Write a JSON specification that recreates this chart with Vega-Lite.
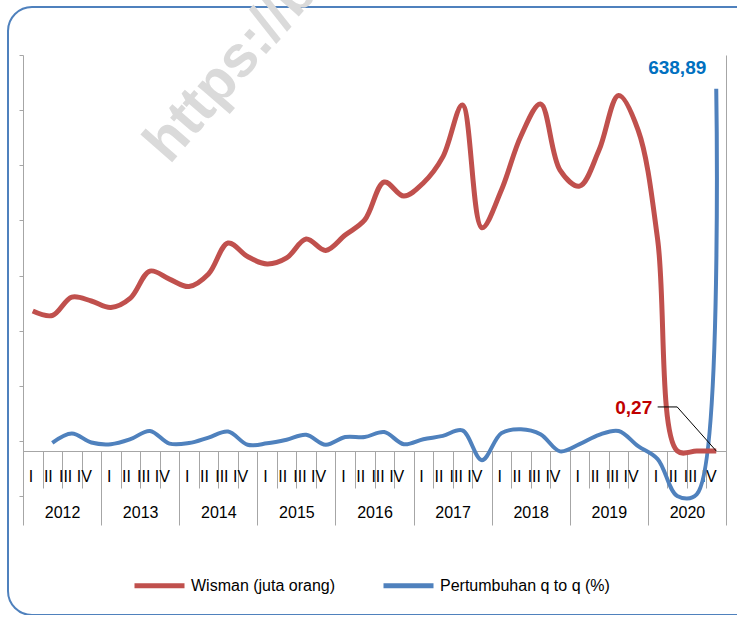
{
  "$schema": "https://vega.github.io/schema/vega-lite/v6.json",
  "width": 760,
  "height": 608,
  "autosize": {"type": "none"},
  "padding": {"left": 8, "top": 7, "right": -31, "bottom": 0},
  "config": {
    "view": {"stroke": "#4f81bd", "strokeWidth": 2, "cornerRadius": 24},
    "font": "Liberation Sans",
    "axis": {"grid": false, "title": null},
    "locale": {"number": {"decimal": ",", "thousands": ".", "grouping": [3], "currency": ["Rp", ""]}}
  },
  "datasets": {
    "kuartal": [
      {"q": "2012 I", "wisman": 715, "pertumbuhan": null},
      {"q": "2012 II", "wisman": 692, "pertumbuhan": -3.6},
      {"q": "2012 III", "wisman": 786, "pertumbuhan": 13.3},
      {"q": "2012 IV", "wisman": 766, "pertumbuhan": -3},
      {"q": "2013 I", "wisman": 733, "pertumbuhan": -6},
      {"q": "2013 II", "wisman": 781, "pertumbuhan": 3},
      {"q": "2013 III", "wisman": 919, "pertumbuhan": 18},
      {"q": "2013 IV", "wisman": 878, "pertumbuhan": -5},
      {"q": "2014 I", "wisman": 840, "pertumbuhan": -4},
      {"q": "2014 II", "wisman": 904, "pertumbuhan": 6},
      {"q": "2014 III", "wisman": 1062, "pertumbuhan": 17},
      {"q": "2014 IV", "wisman": 993, "pertumbuhan": -7},
      {"q": "2015 I", "wisman": 955, "pertumbuhan": -4.5},
      {"q": "2015 II", "wisman": 986, "pertumbuhan": 2},
      {"q": "2015 III", "wisman": 1083, "pertumbuhan": 11},
      {"q": "2015 IV", "wisman": 1024, "pertumbuhan": -7},
      {"q": "2016 I", "wisman": 1103, "pertumbuhan": 7},
      {"q": "2016 II", "wisman": 1180, "pertumbuhan": 7},
      {"q": "2016 III", "wisman": 1374, "pertumbuhan": 16},
      {"q": "2016 IV", "wisman": 1302, "pertumbuhan": -6},
      {"q": "2017 I", "wisman": 1369, "pertumbuhan": 3},
      {"q": "2017 II", "wisman": 1502, "pertumbuhan": 9},
      {"q": "2017 III", "wisman": 1767, "pertumbuhan": 19},
      {"q": "2017 IV", "wisman": 1140, "pertumbuhan": -35},
      {"q": "2018 I", "wisman": 1333, "pertumbuhan": 14},
      {"q": "2018 II", "wisman": 1609, "pertumbuhan": 21},
      {"q": "2018 III", "wisman": 1772, "pertumbuhan": 12},
      {"q": "2018 IV", "wisman": 1435, "pertumbuhan": -19},
      {"q": "2019 I", "wisman": 1353, "pertumbuhan": -6},
      {"q": "2019 II", "wisman": 1537, "pertumbuhan": 11},
      {"q": "2019 III", "wisman": 1816, "pertumbuhan": 18},
      {"q": "2019 IV", "wisman": 1639, "pertumbuhan": -9.6},
      {"q": "2020 I", "wisman": 1080, "pertumbuhan": -33},
      {"q": "2020 II", "wisman": 0.4, "pertumbuhan": -99.9},
      {"q": "2020 III", "wisman": 0.04, "pertumbuhan": -97},
      {"q": "2020 IV", "wisman": 0.27, "pertumbuhan": 638.89}
    ],
    "tahun": [
      {"tahun": "2012"}, {"tahun": "2013"}, {"tahun": "2014"}, {"tahun": "2015"}, {"tahun": "2016"},
      {"tahun": "2017"}, {"tahun": "2018"}, {"tahun": "2019"}, {"tahun": "2020"}
    ],
    "penunjuk": [
      {"q": "2020 I", "v": 225},
      {"q": "2020 II", "v": 225},
      {"q": "2020 IV", "v": 0.27}
    ],
    "tanda": [
      {"teks": "https://bali.bps.go.id", "q": "2013 IV", "v": 500}
    ]
  },
  "layer": [
    {
      "layer": [
        {
          "data": {"name": "tanda"},
          "mark": {"type": "text", "angle": -49, "fontSize": 58, "fontWeight": "bold", "color": "#dadada", "align": "left", "baseline": "alphabetic"},
          "encoding": {
            "x": {"field": "q", "type": "ordinal"},
            "y": {"field": "v", "type": "quantitative"},
            "text": {"field": "teks"}
          }
        },
        {
          "data": {"name": "kuartal"},
          "mark": {"type": "line", "interpolate": "catmull-rom", "strokeWidth": 4},
          "encoding": {
            "x": {
              "field": "q", "type": "ordinal", "sort": null,
              "scale": {"type": "band", "domain": ["2012 I","2012 II","2012 III","2012 IV","2013 I","2013 II","2013 III","2013 IV","2014 I","2014 II","2014 III","2014 IV","2015 I","2015 II","2015 III","2015 IV","2016 I","2016 II","2016 III","2016 IV","2017 I","2017 II","2017 III","2017 IV","2018 I","2018 II","2018 III","2018 IV","2019 I","2019 II","2019 III","2019 IV","2020 I","2020 II","2020 III","2020 IV"], "range": [15, 718], "paddingInner": 0, "paddingOuter": 0},
              "axis": {"orient": "bottom", "offset": -164, "tickBand": "extent", "tickSize": 37, "labelExpr": "split(datum.label, ' ')[1]", "labelAngle": 0, "labelPadding": -12, "labelBaseline": "middle", "labelFontSize": 16, "labelColor": "#000000", "labelOverlap": false, "labelFlush": false, "domainColor": "#a6a6a6", "tickColor": "#a6a6a6", "title": null}
            },
            "y": {
              "field": "pertumbuhan", "type": "quantitative",
              "scale": {"domain": [-100, 700], "range": [489, 48], "nice": false, "zero": false},
              "axis": {"orient": "left", "offset": -15, "values": [-100, 0, 100, 200, 300, 400, 500, 600, 700], "labels": false, "tickSize": 4, "domainColor": "#a6a6a6", "tickColor": "#a6a6a6", "title": null}
            },
            "color": {
              "datum": "Pertumbuhan q to q (%)",
              "scale": {"domain": ["Wisman (juta orang)", "Pertumbuhan q to q (%)"], "range": ["#c0504d", "#4f81bd"]},
              "legend": {"orient": "none", "legendX": 124, "legendY": 551, "direction": "horizontal", "title": null, "symbolType": "stroke", "symbolSize": 2500, "symbolStrokeWidth": 5, "labelFontSize": 16, "labelColor": "#000000", "labelLimit": 300, "columnPadding": 37, "labelOffset": 4, "padding": 0}
            }
          }
        },
        {
          "data": {"name": "kuartal"},
          "transform": [{"filter": "datum.q == '2020 IV'"}],
          "mark": {"type": "text", "fontSize": 19, "fontWeight": "bold", "color": "#0070c0", "align": "center", "baseline": "alphabetic", "dx": -39, "dy": -15},
          "encoding": {
            "x": {"field": "q", "type": "ordinal"},
            "y": {"field": "pertumbuhan", "type": "quantitative"},
            "text": {"field": "pertumbuhan", "type": "quantitative", "format": ".2f"}
          }
        }
      ]
    },
    {
      "layer": [
        {
          "data": {"name": "kuartal"},
          "mark": {"type": "line", "interpolate": "catmull-rom", "strokeWidth": 5},
          "encoding": {
            "x": {
              "field": "q", "type": "ordinal", "sort": null,
              "scale": {"type": "band", "domain": ["2012 I","2012 II","2012 III","2012 IV","2013 I","2013 II","2013 III","2013 IV","2014 I","2014 II","2014 III","2014 IV","2015 I","2015 II","2015 III","2015 IV","2016 I","2016 II","2016 III","2016 IV","2017 I","2017 II","2017 III","2017 IV","2018 I","2018 II","2018 III","2018 IV","2019 I","2019 II","2019 III","2019 IV","2020 I","2020 II","2020 III","2020 IV"], "range": [15, 718], "paddingInner": 0, "paddingOuter": 0},
              "axis": null
            },
            "y": {
              "field": "wisman", "type": "quantitative",
              "scale": {"domain": [-229.8, 2022.5], "range": [489, 48], "nice": false, "zero": false},
              "axis": {"orient": "left", "offset": -718, "labels": false, "ticks": false, "domainColor": "#a6a6a6", "title": null}
            },
            "color": {"datum": "Wisman (juta orang)"}
          }
        },
        {
          "data": {"name": "penunjuk"},
          "mark": {"type": "line", "color": "#000000", "strokeWidth": 1},
          "encoding": {
            "x": {"field": "q", "type": "ordinal", "sort": null},
            "y": {"field": "v", "type": "quantitative"}
          }
        },
        {
          "data": {"name": "kuartal"},
          "transform": [{"filter": "datum.q == '2020 IV'"}],
          "mark": {"type": "text", "fontSize": 19, "fontWeight": "bold", "color": "#c00000", "align": "right", "baseline": "middle", "dx": -64, "dy": -43},
          "encoding": {
            "x": {"field": "q", "type": "ordinal"},
            "y": {"field": "wisman", "type": "quantitative"},
            "text": {"field": "wisman", "type": "quantitative", "format": ".2f"}
          }
        }
      ]
    },
    {
      "data": {"name": "tahun"},
      "mark": {"type": "rule", "strokeOpacity": 0},
      "encoding": {
        "x": {
          "field": "tahun", "type": "ordinal",
          "scale": {"type": "band", "range": [15, 718], "paddingInner": 0, "paddingOuter": 0},
          "axis": {"orient": "bottom", "offset": -164, "tickBand": "extent", "tickSize": 74, "labelPadding": -13, "labelBaseline": "middle", "labelAngle": 0, "domain": false, "labelFontSize": 16, "labelColor": "#000000", "tickColor": "#a6a6a6", "title": null}
        }
      }
    }
  ],
  "resolve": {"scale": {"x": "independent", "y": "independent"}, "axis": {"x": "independent", "y": "independent"}}
}
